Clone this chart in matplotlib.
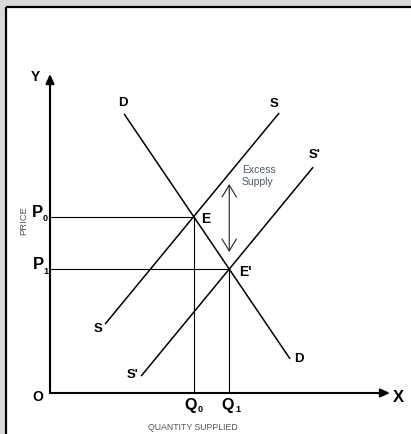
import matplotlib
matplotlib.use("Agg")
import matplotlib.pyplot as plt
from matplotlib.patches import Rectangle

plt.rcParams['font.family'] = ['Liberation Sans', 'DejaVu Sans']

# ---- data (economic units, origin = O) ----
demand_x = [2.18, 7.06]
demand_y = [8.75, 1.07]
supply_x = [1.62, 6.74]
supply_y = [2.16, 8.78]
supply2_x = [2.68, 7.74]
supply2_y = [0.53, 7.08]
excess_y = [6.55, 4.42]          # extent of the "excess supply" double arrow


def intersect(ax_, ay_, bx_, by_):
    m1 = (ay_[1] - ay_[0]) / (ax_[1] - ax_[0])
    m2 = (by_[1] - by_[0]) / (bx_[1] - bx_[0])
    c1 = ay_[0] - m1 * ax_[0]
    c2 = by_[0] - m2 * bx_[0]
    x = (c2 - c1) / (m1 - m2)
    return x, m1 * x + c1


q0, p0 = intersect(demand_x, demand_y, supply_x, supply_y)
q1, p1 = intersect(demand_x, demand_y, supply2_x, supply2_y)

W, H = 411, 435
fig = plt.figure(figsize=(W / 100, H / 100), dpi=100)
fig.patch.set_facecolor('#d9d9d9')

# background axes: white panel with black left/top border
bg = fig.add_axes([0, 0, 1, 1], zorder=-5)
bg.set_xlim(0, W)
bg.set_ylim(H, 0)
bg.axis('off')
bg.add_patch(Rectangle((6, 8), W, H, facecolor='white', edgecolor='none'))
bg.plot([6, 6], [8, H + 2], color='black', lw=1.6, solid_capstyle='butt')
bg.plot([6, W + 2], [8, 8], color='black', lw=1.6, solid_capstyle='butt')

# axes: origin at pixel (50, 394), x tip at 390, y tip at 75
ax = fig.add_axes([50 / W, (H - 394) / H, 340 / W, 319 / H])
ax.set_xlim(0, 10)
ax.set_ylim(0, 10)
ax.axis('off')
ax.patch.set_alpha(0)

# axes arrows
ax.annotate('', xy=(0, 10), xytext=(0, 0),
            arrowprops=dict(arrowstyle='-|>,head_length=0.55,head_width=0.25',
                            mutation_scale=10, lw=1.5, color='black',
                            shrinkA=0, shrinkB=0))
ax.annotate('', xy=(10, 0), xytext=(0, 0),
            arrowprops=dict(arrowstyle='-|>,head_length=0.55,head_width=0.25',
                            mutation_scale=10, lw=1.5, color='black',
                            shrinkA=0, shrinkB=0))

# curves
lw = 1.1
ax.plot(demand_x, demand_y, color='black', lw=lw, solid_capstyle='butt')
ax.plot(supply_x, supply_y, color='black', lw=lw, solid_capstyle='butt')
ax.plot(supply2_x, supply2_y, color='black', lw=lw, solid_capstyle='butt')

# guide lines
glw = 0.8
ax.plot([0, q0], [p0, p0], color='black', lw=glw)
ax.plot([0, q1], [p1, p1], color='black', lw=glw)
ax.plot([q0, q0], [0, p0], color='black', lw=glw)
ax.plot([q1, q1], [0, p1], color='black', lw=glw)

# excess supply double arrow
ax.annotate('', xy=(q1, excess_y[0]), xytext=(q1, excess_y[1]),
            arrowprops=dict(arrowstyle='<->,head_length=0.86,head_width=0.52',
                            mutation_scale=10, lw=0.8, color='#222222',
                            shrinkA=0, shrinkB=0))


def px(x, y):
    """pixel position -> data units (for label placement)"""
    return (x - 50) / 34.0, (394 - y) / 31.9


bold = dict(fontweight='bold', color='black', ha='center', va='center',
            clip_on=False)

ax.text(*px(35, 77), 'Y', fontsize=10, **bold)
ax.text(*px(38, 397), 'O', fontsize=10, **bold)
ax.text(*px(398, 398), 'X', fontsize=12, **bold)
ax.text(*px(123, 103), 'D', fontsize=9.5, **bold)
ax.text(*px(299, 359), 'D', fontsize=9.5, **bold)
ax.text(*px(274, 104), 'S', fontsize=9.5, **bold)
ax.text(*px(98, 329), 'S', fontsize=9.5, **bold)
ax.text(*px(315, 155), "S'", fontsize=9.5, **bold)
ax.text(*px(133, 375), "S'", fontsize=9.5, **bold)
ax.text(*px(206, 219), 'E', fontsize=10, **bold)
ax.text(*px(245, 272), "E'", fontsize=10, **bold)

# price / quantity labels with subscripts
ax.text(*px(37, 213), 'P', fontsize=12, **bold)
ax.text(*px(45.5, 219), '0', fontsize=6.5, **bold)
ax.text(*px(38, 265), 'P', fontsize=12, **bold)
ax.text(*px(46, 271), '1', fontsize=6.5, **bold)
ax.text(*px(191, 406), 'Q', fontsize=11.5, **bold)
ax.text(*px(200.5, 410), '0', fontsize=6.5, **bold)
ax.text(*px(228, 406), 'Q', fontsize=11.5, **bold)
ax.text(*px(237.5, 410), '1', fontsize=6.5, **bold)

ax.text(*px(242, 165), 'Excess\nSupply', fontsize=7.5, color='#4f5a66',
        ha='left', va='top', linespacing=1.25, clip_on=False)
ax.text(*px(193, 428), 'QUANTITY SUPPLIED', fontsize=6.3, color='#555555',
        ha='center', va='center', clip_on=False)
ax.text(*px(24, 221), 'PRICE', fontsize=6.8, color='#555555', rotation=90,
        ha='center', va='center', clip_on=False)

fig.savefig('out.png', dpi=100, facecolor=fig.get_facecolor())
